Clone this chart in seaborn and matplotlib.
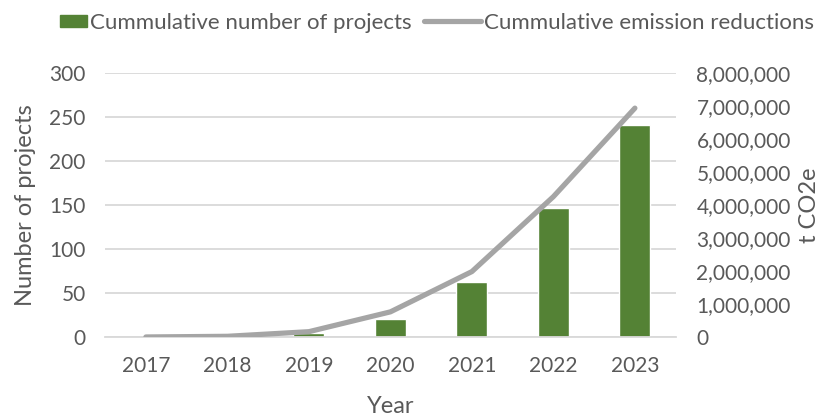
import pandas as pd
import seaborn as sns
import matplotlib.pyplot as plt
from matplotlib.patches import Patch, Rectangle
from matplotlib.lines import Line2D
from matplotlib.legend_handler import HandlerPatch
from matplotlib.ticker import FuncFormatter


years = ['2017', '2018', '2019', '2020', '2021', '2022', '2023']
projects = [0, 1, 5, 20, 62, 147, 241]
emissions = [0, 20000, 160000, 760000, 1980000, 4250000, 6930000]

bar_color = '#548235'
line_color = '#A5A5A5'
text_color = '#595959'
grid_color = '#D9D9D9'


def small_patch(legend, orig_handle, xdescent, ydescent, width, height, fontsize):
    # narrow square-ish patch sitting right next to the label
    w, h = 19.5, 8.5
    return Rectangle((width - xdescent - w, -ydescent + (height - h) / 2), w, h)


def main():
    sns.set_style('white')
    plt.rcParams['font.family'] = ['Lato', 'DejaVu Sans']
    plt.rcParams['font.size'] = 15
    plt.rcParams['text.color'] = text_color
    plt.rcParams['axes.labelcolor'] = text_color
    plt.rcParams['xtick.color'] = text_color
    plt.rcParams['ytick.color'] = text_color

    df = pd.DataFrame({'year': years, 'projects': projects, 'emissions': emissions})

    fig = plt.figure(figsize=(8.28, 4.16), dpi=100)
    ax = fig.add_axes([0.127, 0.19, 0.689, 0.635])
    sns.barplot(data=df, x='year', y='projects', ax=ax, color=bar_color,
                width=0.38, saturation=1)
    ax.set_ylim(0, 300)
    ax.set_yticks(range(0, 301, 50))
    ax.set_xlim(-0.5, len(years) - 0.5)
    ax.yaxis.grid(True, color=grid_color, lw=1.3)
    ax.set_axisbelow(True)
    for side in ('left', 'right', 'top'):
        ax.spines[side].set_visible(False)
    ax.spines['bottom'].set_color(grid_color)
    ax.spines['bottom'].set_linewidth(1.3)
    ax.tick_params(axis='both', length=0, labelsize=15)
    ax.tick_params(axis='x', pad=14)
    ax.tick_params(axis='y', pad=14)
    ax.set_xlabel('Year', fontsize=17, va='center')
    ax.set_ylabel('Number of projects', fontsize=17, va='center')
    ax.xaxis.set_label_coords(0.5, -0.265)
    ax.yaxis.set_label_coords(-0.14, 0.5)

    ax2 = ax.twinx()
    sns.lineplot(data=df, x='year', y='emissions', ax=ax2, color=line_color,
                 lw=3.75, solid_capstyle='round', legend=False)
    ax2.set_ylim(0, 8000000)
    ax2.set_yticks(range(0, 8000001, 1000000))
    ax2.yaxis.set_major_formatter(FuncFormatter(lambda v, p: f'{int(v):,}'))
    for side in ('left', 'right', 'top', 'bottom'):
        ax2.spines[side].set_visible(False)
    ax2.tick_params(axis='y', length=0, labelsize=15, pad=15)
    ax2.set_ylabel('t CO2e', fontsize=17, va='center')
    ax2.yaxis.set_label_coords(1.235, 0.5)
    ax2.set_xlim(-0.5, len(years) - 0.5)

    handles = [
        Patch(facecolor=bar_color, edgecolor=bar_color),
        Line2D([], [], color=line_color, lw=3.75),
    ]
    labels = ['Cummulative number of projects', 'Cummulative emission reductions']
    fig.legend(handles, labels, loc='upper center', bbox_to_anchor=(0.51, 1.017),
               ncol=2, frameon=False, fontsize=16, handlelength=2.56,
               handletextpad=0.15, columnspacing=0.55,
               handler_map={Patch: HandlerPatch(patch_func=small_patch)})

    plt.savefig('out.png', dpi=100)


if __name__ == '__main__':
    main()
